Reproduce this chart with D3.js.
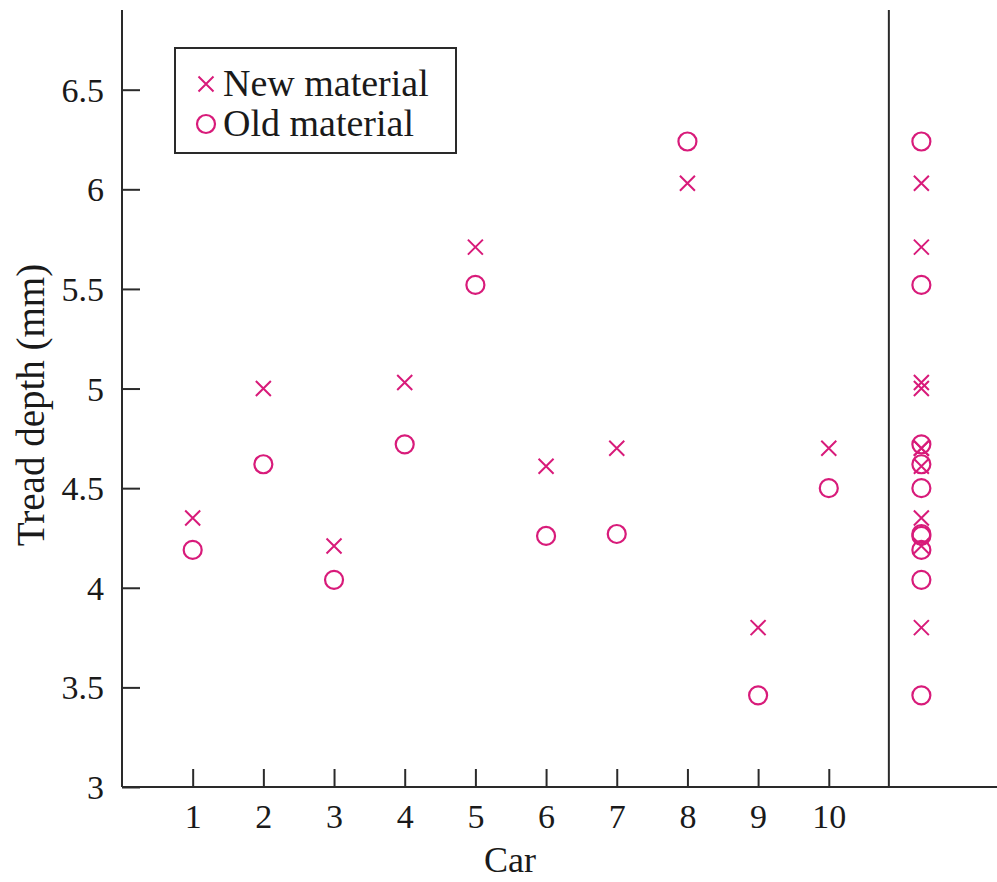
<!DOCTYPE html>
<html>
<head>
<meta charset="utf-8">
<script src="https://cdn.jsdelivr.net/npm/d3@7"></script>
<style>
  body { margin: 0; background: #fff; }
  text { font-family: "Liberation Serif", "DejaVu Serif", serif; fill: #1a1a1a; }
</style>
</head>
<body>
<svg width="997" height="882"></svg>
<script>
const svg = d3.select("svg");

// Data
const cars = [1, 2, 3, 4, 5, 6, 7, 8, 9, 10];
const newMaterial = [4.35, 5.0, 4.21, 5.03, 5.71, 4.61, 4.7, 6.03, 3.8, 4.7];
const oldMaterial = [4.19, 4.62, 4.04, 4.72, 5.52, 4.26, 4.27, 6.24, 3.46, 4.5];
const yTicks = [3, 3.5, 4, 4.5, 5, 5.5, 6, 6.5];
const allColumn = 11.31; // x position for the pooled column
const dividerAt = 10.85;

const pink = "#d81b7a",
  ink = "#2a2a2a";

// Scales
const x = d3.scaleLinear().domain([0, 12.38]).range([122, 997]);
const y = d3.scaleLinear().domain([3, 6.9]).range([787, 10]);

// Y axis (ticks point inward)
const yAxis = svg.append("g")
  .attr("transform", `translate(${x(0)},0)`)
  .call(d3.axisRight(y).tickValues(yTicks).tickSize(18).tickFormat(d3.format("")));
yAxis.select(".domain").remove();
yAxis.selectAll(".tick line").attr("stroke", ink).attr("stroke-width", 2);
yAxis.selectAll(".tick text")
  .attr("x", -18)
  .attr("text-anchor", "end")
  .attr("dy", "0.34em")
  .style("font-size", "34px")
  .attr("fill", "#1a1a1a");

// X axis (ticks point up)
const xAxis = svg.append("g")
  .attr("transform", `translate(0,${y(3)})`)
  .call(d3.axisTop(x).tickValues(cars).tickSize(18).tickFormat(d3.format("d")));
xAxis.select(".domain").remove();
xAxis.selectAll(".tick line").attr("stroke", ink).attr("stroke-width", 2);
xAxis.selectAll(".tick text")
  .attr("y", 41)
  .attr("dy", 0)
  .style("font-size", "34px")
  .attr("fill", "#1a1a1a");

// Axis lines
svg.append("line")
  .attr("x1", x(0)).attr("x2", x(0))
  .attr("y1", y(6.9)).attr("y2", y(3))
  .attr("stroke", ink).attr("stroke-width", 2);
svg.append("line")
  .attr("x1", x(0)).attr("x2", x(12.38))
  .attr("y1", y(3)).attr("y2", y(3))
  .attr("stroke", ink).attr("stroke-width", 2);
svg.append("line")
  .attr("x1", x(dividerAt)).attr("x2", x(dividerAt))
  .attr("y1", y(6.9)).attr("y2", y(3))
  .attr("stroke", ink).attr("stroke-width", 2);

// Axis titles
svg.append("text")
  .attr("x", 510).attr("y", 872)
  .attr("text-anchor", "middle")
  .style("font-size", "36px")
  .text("Car");
svg.append("text")
  .attr("transform", "translate(44,405) rotate(-90)")
  .attr("text-anchor", "middle")
  .style("font-size", "39px")
  .text("Tread depth (mm)");

// Markers
const cross = (g, cx, cy, s) => {
  g.append("path")
    .attr("d", `M${cx - s},${cy - s}L${cx + s},${cy + s}M${cx - s},${cy + s}L${cx + s},${cy - s}`)
    .attr("stroke", pink).attr("stroke-width", 2).attr("fill", "none");
};
const ring = (g, cx, cy, r) => {
  g.append("circle")
    .attr("cx", cx).attr("cy", cy).attr("r", r)
    .attr("stroke", pink).attr("stroke-width", 2.2).attr("fill", "none");
};

const pts = svg.append("g");
cars.forEach((c, i) => {
  ring(pts, x(c), y(oldMaterial[i]), 9);
  cross(pts, x(c), y(newMaterial[i]), 7.5);
  ring(pts, x(allColumn), y(oldMaterial[i]), 9);
  cross(pts, x(allColumn), y(newMaterial[i]), 7.5);
});

// Legend
const legend = svg.append("g");
legend.append("rect")
  .attr("x", 175).attr("y", 48)
  .attr("width", 281).attr("height", 105)
  .attr("fill", "#fff").attr("stroke", ink).attr("stroke-width", 2);
cross(legend, 206, 84, 7.5);
ring(legend, 206, 124, 9);
legend.append("text").attr("x", 223).attr("y", 96)
  .style("font-size", "38px").text("New material");
legend.append("text").attr("x", 223).attr("y", 136)
  .style("font-size", "38px").text("Old material");
</script>
</body>
</html>
